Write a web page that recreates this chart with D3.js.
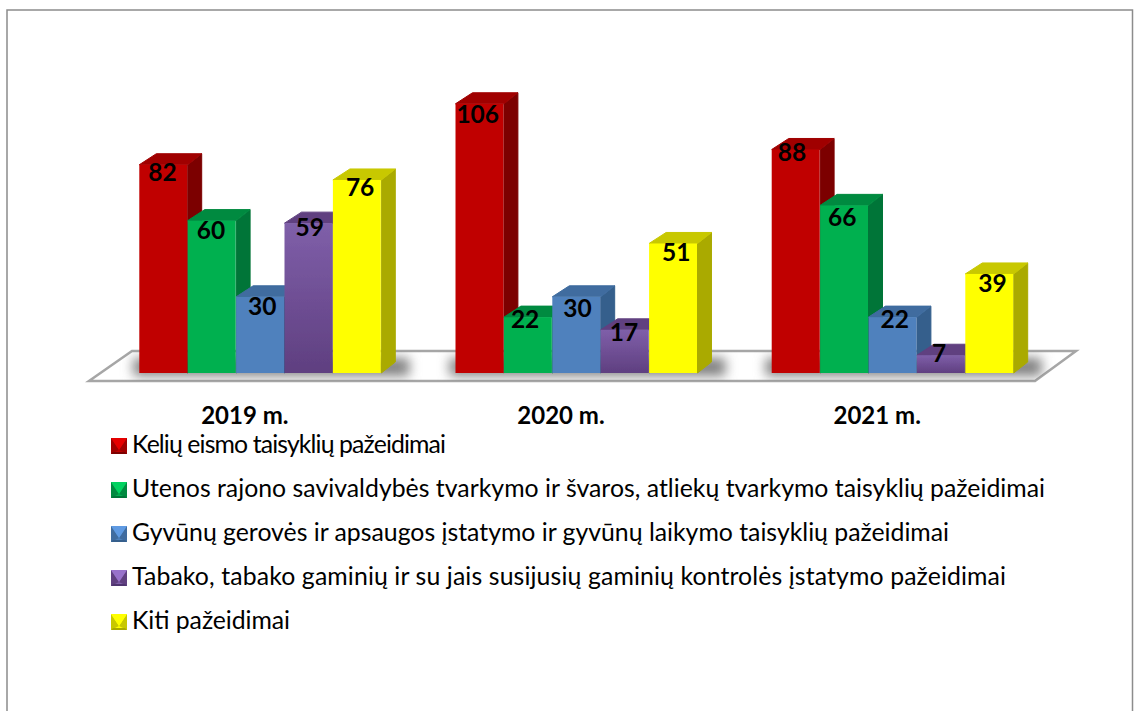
<!DOCTYPE html>
<html>
<head>
<meta charset="utf-8">
<script src="https://cdn.jsdelivr.net/npm/d3@7"></script>
<style>
  html, body { margin: 0; padding: 0; background: #fff; }
  svg { display: block; }
  text { font-family: Lato, "Open Sans", sans-serif; fill: #000; }
</style>
</head>
<body>
<svg id="chart" width="1134" height="711"></svg>
<script>
var years = ["2019 m.", "2020 m.", "2021 m."];
var seriesNames = [
  "Kelių eismo taisyklių pažeidimai",
  "Utenos rajono savivaldybės tvarkymo ir švaros, atliekų tvarkymo taisyklių pažeidimai",
  "Gyvūnų gerovės ir apsaugos įstatymo ir gyvūnų laikymo taisyklių pažeidimai",
  "Tabako, tabako gaminių ir su jais susijusių gaminių kontrolės įstatymo pažeidimai",
  "Kiti pažeidimai"
];
var keliu = [82, 106, 88];
var utenos = [60, 22, 66];
var gyvunu = [30, 30, 22];
var tabako = [59, 17, 7];
var kiti = [76, 51, 39];
var seriesValues = [keliu, utenos, gyvunu, tabako, kiti];

// front, front bottom, side, top
var colors = [
  ["#c00000", "#c00000", "#7c0000", "#a00000"],
  ["#00b050", "#00b050", "#007537", "#008a40"],
  ["#4f81bd", "#4f81bd", "#355f8c", "#3f6c9f"],
  ["#7f5fa9", "#5f3f80", "#4f3470", "#604080"],
  ["#ffff00", "#ffff00", "#aaaa00", "#c8c800"]
];

// hand placed value labels in the reference, by series then year
var labelDx = [
  [-1, -2, -4],
  [-1, -3, -2],
  [2, 1, 2],
  [1, -1, -2],
  [3, 3, 3]
];
var labelDy = [
  [16, 19, 12],
  [18, 11, 21],
  [18, 20, 11],
  [13, 11, 7],
  [16, 18, 18]
];
// legend text is stretched a little, Lato does not run quite like the original font
var legendWidths = [314, 913, 817, 874, 158];

var depthX = 14, depthY = 11, baseY = 373;

var svg = d3.select("#chart");
var defs = svg.append("defs");

colors.forEach(function(c, i) {
  var g = defs.append("linearGradient").attr("id", "front" + i)
    .attr("x1", 0).attr("y1", 0).attr("x2", 0).attr("y2", 1);
  g.append("stop").attr("offset", "0%").attr("stop-color", c[0]);
  g.append("stop").attr("offset", "100%").attr("stop-color", c[1]);
});
defs.append("filter").attr("id", "blur")
  .attr("x", "-20%").attr("y", "-100%").attr("width", "140%").attr("height", "300%")
  .append("feGaussianBlur").attr("stdDeviation", 6);
defs.append("filter").attr("id", "soft")
  .append("feGaussianBlur").attr("stdDeviation", 0.5);

var floor = [[89, 381], [1035, 381], [1076, 351], [132, 351]];
defs.append("clipPath").attr("id", "floorClip")
  .append("polygon").attr("points", floor.join(" "));

// frame, no bottom edge in the picture
svg.append("path")
  .attr("d", "M7,711V10H1132.5V711")
  .attr("fill", "none")
  .attr("stroke", "#8c8c8c")
  .attr("stroke-width", 1.5);

var x0 = d3.scaleBand().domain(years).range([139.3, 1013.7]).paddingInner(0.2347).paddingOuter(0);
var x1 = d3.scaleBand().domain(d3.range(seriesNames.length)).range([0, x0.bandwidth()]);
var y = d3.scaleLinear().domain([0, 120]).range([baseY, baseY - 120 * 2.54]);

svg.append("polygon")
  .attr("points", floor.join(" "))
  .attr("fill", "#fff")
  .attr("stroke", "#a6a6a6")
  .attr("stroke-width", 2.5);

var shadowG = svg.append("g").attr("clip-path", "url(#floorClip)");
years.forEach(function(yr) {
  shadowG.append("rect")
    .attr("x", x0(yr) - 6)
    .attr("y", baseY - 15)
    .attr("width", x0.bandwidth() + 34)
    .attr("height", 18)
    .attr("fill", "#808080")
    .attr("filter", "url(#blur)");
});

var marks = svg.append("g").attr("filter", "url(#soft)");
years.forEach(function(yr, yi) {
  seriesNames.forEach(function(name, si) {
    var v = seriesValues[si][yi];
    var left = x0(yr) + x1(si), w = x1.bandwidth(), right = left + w, top = y(v);
    var c = colors[si];
    var g = marks.append("g");
    g.append("polygon")
      .attr("points", [[right, top], [right + depthX, top - depthY], [right + depthX, baseY - depthY], [right, baseY]].join(" "))
      .attr("fill", c[2])
      .attr("stroke", c[2])
      .attr("stroke-linejoin", "round");
    g.append("polygon")
      .attr("points", [[left, top], [left + depthX + 3, top - depthY], [right + depthX, top - depthY], [right, top]].join(" "))
      .attr("fill", c[3])
      .attr("stroke", c[3])
      .attr("stroke-linejoin", "round");
    g.append("rect")
      .attr("x", left).attr("y", top)
      .attr("width", w - 0.5).attr("height", baseY - top)
      .attr("fill", "url(#front" + si + ")");
  });
});

// labels go on top of every bar
years.forEach(function(yr, yi) {
  seriesNames.forEach(function(name, si) {
    var v = seriesValues[si][yi];
    svg.append("text")
      .attr("x", x0(yr) + x1(si) + x1.bandwidth() / 2 + labelDx[si][yi])
      .attr("y", y(v) + labelDy[si][yi])
      .attr("text-anchor", "middle")
      .attr("font-size", 24.5)
      .attr("font-weight", 700)
      .text(v);
  });
  svg.append("text")
    .attr("x", x0(yr) + x0.bandwidth() / 2 - 15.5)
    .attr("y", 424)
    .attr("text-anchor", "middle")
    .attr("font-size", 24)
    .attr("font-weight", 700)
    .text(yr);
});

var legendY = d3.scalePoint().domain(d3.range(seriesNames.length)).range([445, 621]);
var size = 16, mx = 111;
seriesNames.forEach(function(name, i) {
  var cy = legendY(i), c = colors[i];
  var l = mx, r = mx + size, t = cy + 1 - size / 2, u = cy + 1 + size / 2;
  var px = mx + size / 2, py = cy + 5;
  var g = svg.append("g").attr("filter", "url(#soft)");
  g.append("rect").attr("x", l).attr("y", t).attr("width", size).attr("height", size).attr("fill", c[0]);
  g.append("polygon").attr("points", [[l, t], [px, py], [l, u]].join(" ")).attr("fill", c[3]);
  g.append("polygon").attr("points", [[r, t], [px, py], [r, u]].join(" ")).attr("fill", c[3]);
  g.append("polygon").attr("points", [[l, t], [r, t], [px, py]].join(" ")).attr("fill", d3.color(c[0]).brighter(0.5));
  g.append("polygon").attr("points", [[l, u], [r, u], [r - 2, u - 2], [l + 2, u - 2]].join(" ")).attr("fill", c[2]);
  svg.append("text")
    .attr("x", 132)
    .attr("y", cy + 8)
    .attr("font-size", 24.8)
    .attr("textLength", legendWidths[i])
    .attr("lengthAdjust", "spacing")
    .text(name);
});
</script>
</body>
</html>
